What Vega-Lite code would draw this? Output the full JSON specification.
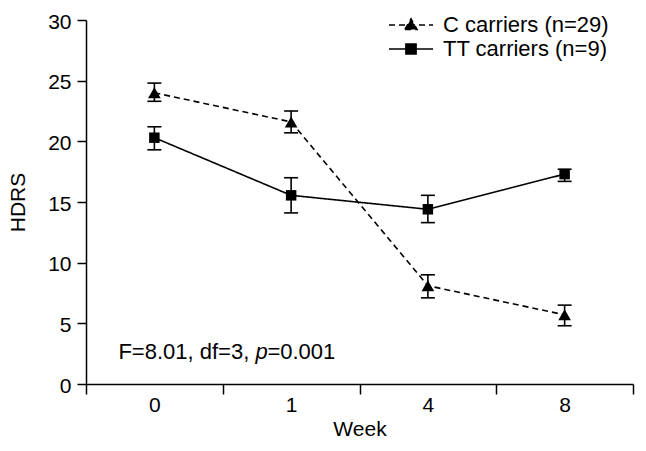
{
  "$schema": "https://vega.github.io/schema/vega-lite/v6.json",
  "width": 547,
  "height": 364,
  "autosize": {"type": "none"},
  "padding": {"left": 86, "top": 20, "right": 13, "bottom": 67},
  "background": "white",
  "config": {
    "view": {"stroke": null},
    "font": "Liberation Sans",
    "axis": {
      "domainColor": "black",
      "tickColor": "black",
      "domainWidth": 1.5,
      "tickWidth": 1.5,
      "labelColor": "black",
      "titleColor": "black",
      "labelFont": "Liberation Sans",
      "titleFont": "Liberation Sans",
      "labelFontSize": 21,
      "titleFontSize": 21,
      "titleFontWeight": "normal",
      "grid": false
    }
  },
  "datasets": {
    "series": [
      {"week": "0", "group": "C carriers (n=29)", "mean": 24.0, "lo": 23.3, "hi": 24.8},
      {"week": "1", "group": "C carriers (n=29)", "mean": 21.6, "lo": 20.7, "hi": 22.5},
      {"week": "4", "group": "C carriers (n=29)", "mean": 8.1, "lo": 7.1, "hi": 9.0},
      {"week": "8", "group": "C carriers (n=29)", "mean": 5.7, "lo": 4.8, "hi": 6.5},
      {"week": "0", "group": "TT carriers (n=9)", "mean": 20.3, "lo": 19.3, "hi": 21.2},
      {"week": "1", "group": "TT carriers (n=9)", "mean": 15.55, "lo": 14.1, "hi": 17.0},
      {"week": "4", "group": "TT carriers (n=9)", "mean": 14.4, "lo": 13.3, "hi": 15.55},
      {"week": "8", "group": "TT carriers (n=9)", "mean": 17.3, "lo": 16.7, "hi": 17.7}
    ]
  },
  "encoding": {
    "x": {
      "field": "week",
      "type": "nominal",
      "scale": {"type": "band", "domain": ["0", "1", "4", "8"], "paddingInner": 0, "paddingOuter": 0},
      "axis": {
        "title": "Week",
        "labelAngle": 0,
        "tickBand": "extent",
        "tickSize": 10,
        "labelPadding": 0,
        "titlePadding": 3
      }
    }
  },
  "layer": [
    {
      "data": {"name": "series"},
      "mark": {"type": "line", "color": "black", "strokeWidth": 1.6},
      "encoding": {
        "y": {
          "field": "mean",
          "type": "quantitative",
          "scale": {"domain": [0, 30], "nice": false},
          "axis": {
            "title": "HDRS",
            "values": [0, 5, 10, 15, 20, 25, 30],
            "tickSize": 9,
            "labelPadding": 6,
            "titlePadding": 19,
            "labelOffset": 2
          }
        },
        "strokeDash": {
          "field": "group",
          "type": "nominal",
          "scale": {"domain": ["C carriers (n=29)", "TT carriers (n=9)"], "range": [[6, 4], [1, 0]]},
          "legend": {
            "title": null,
            "orient": "none",
            "legendX": 313,
            "legendY": -7,
            "padding": 0,
            "symbolSize": 484,
            "symbolStrokeWidth": 1.6,
            "symbolStrokeColor": "black",
            "symbolFillColor": "black",
            "labelFont": "Liberation Sans",
            "labelFontSize": 22,
            "labelColor": "black",
            "labelOffset": 20,
            "labelLimit": 0,
            "rowPadding": 1,
            "encode": {
              "symbols": {
                "update": {
                  "shape": {"signal": "datum.label === 'C carriers (n=29)' ? 'M-2,0L2,0M-0.55,0.4L0,-0.55L0.55,0.4Z' : 'M-2,0L2,0M-0.46,-0.46L0.46,-0.46L0.46,0.46L-0.46,0.46Z'"},
                  "fill": {"value": "black"},
                  "stroke": {"value": "black"}
                }
              }
            }
          }
        }
      }
    },
    {
      "data": {"name": "series"},
      "mark": {"type": "rule", "color": "black", "strokeWidth": 1.6},
      "encoding": {
        "y": {"field": "lo", "type": "quantitative"},
        "y2": {"field": "hi"}
      }
    },
    {
      "data": {"name": "series"},
      "mark": {"type": "tick", "color": "black", "thickness": 1.6, "size": 14, "opacity": 1},
      "encoding": {"y": {"field": "lo", "type": "quantitative"}}
    },
    {
      "data": {"name": "series"},
      "mark": {"type": "tick", "color": "black", "thickness": 1.6, "size": 14, "opacity": 1},
      "encoding": {"y": {"field": "hi", "type": "quantitative"}}
    },
    {
      "data": {"name": "series"},
      "transform": [{"filter": "datum.group === 'C carriers (n=29)'"}],
      "mark": {"type": "point", "shape": "triangle-up", "filled": true, "color": "black", "opacity": 1, "size": 160},
      "encoding": {"y": {"field": "mean", "type": "quantitative"}}
    },
    {
      "data": {"name": "series"},
      "transform": [{"filter": "datum.group === 'TT carriers (n=9)'"}],
      "mark": {"type": "point", "shape": "square", "filled": true, "color": "black", "opacity": 1, "size": 110},
      "encoding": {"y": {"field": "mean", "type": "quantitative"}}
    },
    {
      "data": {"values": [{"week": "0", "pos": 2.04, "part": "F=8.01, df=3,"}]},
      "mark": {"type": "text", "align": "left", "baseline": "alphabetic", "dx": -36, "fontSize": 22, "font": "Liberation Sans", "color": "black"},
      "encoding": {"y": {"field": "pos", "type": "quantitative"}, "text": {"field": "part"}}
    },
    {
      "data": {"values": [{"week": "0", "pos": 2.04, "part": "p"}]},
      "mark": {"type": "text", "align": "left", "baseline": "alphabetic", "dx": 101, "fontSize": 22, "fontStyle": "italic", "font": "Liberation Sans", "color": "black"},
      "encoding": {"y": {"field": "pos", "type": "quantitative"}, "text": {"field": "part"}}
    },
    {
      "data": {"values": [{"week": "0", "pos": 2.04, "part": "=0.001"}]},
      "mark": {"type": "text", "align": "left", "baseline": "alphabetic", "dx": 113, "fontSize": 22, "font": "Liberation Sans", "color": "black"},
      "encoding": {"y": {"field": "pos", "type": "quantitative"}, "text": {"field": "part"}}
    }
  ]
}
